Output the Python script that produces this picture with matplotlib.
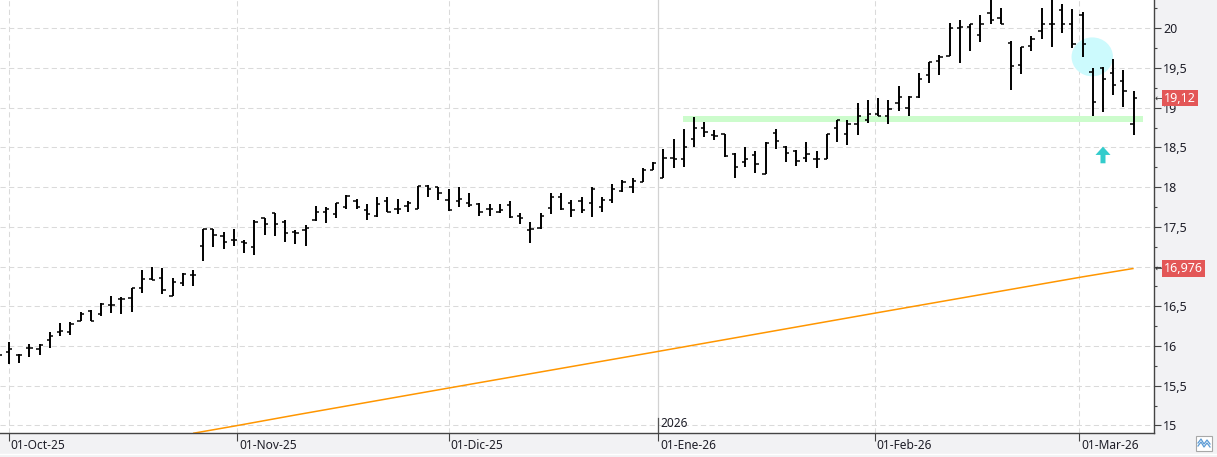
import numpy as np
import pandas as pd
import matplotlib
matplotlib.use('Agg')
import matplotlib.pyplot as plt
import matplotlib.ticker as mticker
import matplotlib.transforms as mtransforms
from matplotlib.patches import Ellipse, Rectangle
from matplotlib.lines import Line2D

plt.rcParams['font.family'] = ['Noto Sans', 'DejaVu Sans']

# ---------------- data ----------------
holidays = ['2025-12-25', '2025-12-26', '2026-01-01']
trade_dates = pd.bdate_range('2025-09-30', '2026-03-09')
trade_dates = trade_dates[~trade_dates.isin(pd.to_datetime(holidays))]

opens = [15.93, 15.93, 15.89, 15.97, 15.96, 16.08, 16.18, 16.18, 16.32, 16.44,
         16.40, 16.52, 16.59, 16.60, 16.73, 16.84, 16.85, 16.63, 16.79, 16.89,
         17.26, 17.47, 17.38, 17.33, 17.31, 17.24, 17.61, 17.68, 17.56, 17.43,
         17.46, 17.58, 17.69, 17.66, 17.75, 17.82, 17.71, 17.63, 17.82, 17.73,
         17.76, 17.72, 18.02, 18.00, 17.84, 17.82, 17.80, 17.79, 17.72, 17.69,
         17.77, 17.64, 17.46, 17.48, 17.74, 17.88, 17.80, 17.82, 17.80, 17.75,
         17.84, 17.95, 18.00, 18.06, 18.22, 18.12, 18.37, 18.35, 18.61, 18.74,
         18.66, 18.67, 18.42, 18.31, 18.40, 18.17, 18.68, 18.51, 18.46, 18.37,
         18.36, 18.35, 18.75, 18.67, 18.79, 18.84, 18.92, 18.90, 19.06, 19.00,
         19.14, 19.41, 19.59, 19.65, 20.00, 20.01, 19.92, 20.19, 20.13, 19.81,
         19.54, 19.78, 19.97, 20.05, 20.23, 20.05, 20.17, 19.45, 19.50, 19.44,
         19.33, 18.80]
highs = [16.00, 16.05, 15.90, 16.02, 16.02, 16.17, 16.29, 16.30, 16.43, 16.45,
         16.54, 16.63, 16.61, 16.73, 16.96, 17.00, 16.98, 16.85, 16.92, 16.96,
         17.47, 17.47, 17.44, 17.47, 17.33, 17.58, 17.61, 17.68, 17.58, 17.46,
         17.52, 17.76, 17.75, 17.80, 17.90, 17.85, 17.79, 17.87, 17.88, 17.85,
         17.82, 18.02, 18.03, 18.00, 17.97, 18.00, 17.93, 17.80, 17.79, 17.79,
         17.83, 17.68, 17.56, 17.68, 17.93, 17.93, 17.84, 17.87, 18.00, 17.87,
         18.04, 18.09, 18.12, 18.24, 18.32, 18.48, 18.60, 18.73, 18.88, 18.82,
         18.72, 18.67, 18.43, 18.50, 18.45, 18.57, 18.73, 18.52, 18.47, 18.57,
         18.45, 18.67, 18.85, 18.85, 19.06, 19.10, 19.12, 19.10, 19.27, 19.15,
         19.44, 19.57, 19.66, 20.07, 20.10, 20.06, 20.17, 20.42, 20.25, 19.84,
         19.76, 19.90, 20.25, 20.42, 20.31, 20.24, 20.20, 19.50, 19.51, 19.61,
         19.47, 19.21]
lows = [15.80, 15.77, 15.78, 15.86, 15.89, 15.97, 16.12, 16.14, 16.32, 16.32,
        16.38, 16.42, 16.40, 16.43, 16.67, 16.83, 16.66, 16.63, 16.75, 16.75,
        17.07, 17.25, 17.22, 17.26, 17.17, 17.15, 17.40, 17.38, 17.31, 17.28,
        17.26, 17.57, 17.55, 17.61, 17.72, 17.72, 17.59, 17.62, 17.69, 17.66,
        17.69, 17.72, 17.87, 17.84, 17.70, 17.75, 17.75, 17.64, 17.63, 17.67,
        17.61, 17.54, 17.30, 17.47, 17.66, 17.71, 17.62, 17.68, 17.62, 17.69,
        17.80, 17.94, 17.93, 18.06, 18.22, 18.12, 18.24, 18.25, 18.51, 18.63,
        18.59, 18.38, 18.12, 18.25, 18.18, 18.17, 18.48, 18.31, 18.27, 18.31,
        18.24, 18.35, 18.57, 18.53, 18.66, 18.81, 18.89, 18.80, 18.96, 18.90,
        19.12, 19.31, 19.41, 19.65, 19.56, 19.72, 19.83, 20.05, 20.05, 19.22,
        19.42, 19.72, 19.86, 19.76, 19.94, 19.75, 19.64, 18.89, 18.94, 19.16,
        19.01, 18.65]
closes = [15.88, 15.96, 15.88, 15.98, 16.01, 16.12, 16.19, 16.28, 16.40, 16.32,
          16.53, 16.52, 16.59, 16.73, 16.84, 16.83, 16.70, 16.80, 16.91, 16.89,
          17.47, 17.40, 17.31, 17.33, 17.29, 17.56, 17.54, 17.54, 17.42, 17.42,
          17.48, 17.69, 17.73, 17.80, 17.89, 17.75, 17.66, 17.79, 17.69, 17.72,
          17.80, 18.02, 17.98, 17.93, 17.71, 17.85, 17.77, 17.69, 17.73, 17.71,
          17.62, 17.61, 17.47, 17.63, 17.87, 17.73, 17.71, 17.71, 17.97, 17.84,
          17.98, 18.06, 18.08, 18.22, 18.30, 18.37, 18.36, 18.50, 18.74, 18.69,
          18.64, 18.39, 18.25, 18.36, 18.29, 18.56, 18.58, 18.43, 18.33, 18.42,
          18.36, 18.67, 18.85, 18.79, 18.90, 18.92, 18.90, 18.98, 19.13, 19.14,
          19.36, 19.57, 19.64, 20.00, 20.01, 20.06, 20.06, 20.10, 20.05, 19.53,
          19.76, 19.86, 20.05, 20.05, 20.05, 19.80, 19.80, 19.07, 19.36, 19.29,
          19.21, 19.12]

# long moving average read at a few bars (bar number counted from 01-Oct-25)
ma_bars = [18, 22, 28, 43, 63, 85, 97, 105, 110]
ma_vals = [14.90, 14.99, 15.13, 15.47, 15.92, 16.42, 16.69, 16.87, 16.976]

month_starts = ['2025-10-01', '2025-11-01', '2025-12-01', '2026-01-01', '2026-02-01', '2026-03-01']
month_labels = ['01-Oct-25', '01-Nov-25', '01-Dic-25', '01-Ene-26', '01-Feb-26', '01-Mar-26']
year_label = '2026'

support_level = (18.82, 18.895)
last_close_label = '19,12'
ma_last_label = '16,976'
hidden_tick_values = [17.0]   # covered by the moving-average price label

# ---------------- figure ----------------
W, H = 1217, 457
fig = plt.figure(figsize=(W / 100, H / 100), dpi=100, facecolor='#f2f2f4')
ax_left, ax_right, ax_top, ax_bottom = 0, 1153.5, 0, 433.3
ax = fig.add_axes([ax_left / W, 1 - ax_bottom / H, (ax_right - ax_left) / W, (ax_bottom - ax_top) / H])
ax.set_facecolor('white')

x = np.arange(len(trade_dates)) - 1  # 01-Oct-25 is bar 0
ords = np.array([d.toordinal() for d in trade_dates])
tick_pos = np.interp([pd.Timestamp(m).toordinal() for m in month_starts], ords, x)

ax.set_xlim(-0.88, 111.94)
ax.set_ylim(14.90, 20.356)

# grid
grid_col = '#dadada'
for v in np.arange(15, 20.01, 0.5):
    ax.axhline(v, color=grid_col, lw=0.75, dashes=(5, 3.2), zorder=0)
for p, lab in zip(tick_pos, month_labels):
    if lab == '01-Ene-26':
        ax.axvline(p, color='#d2d2d2', lw=0.9, zorder=0)
        ax.axvline(p, ymin=0, ymax=15 / 433.3, color='#555555', lw=0.9, zorder=3)
    else:
        ax.axvline(p, color=grid_col, lw=0.75, dashes=(5, 3.2), zorder=0)

# support band, circle, arrow
ax.add_patch(Rectangle((65.95, support_level[0]), 45.0, support_level[1] - support_level[0],
                       facecolor='#ccfccc', edgecolor='none', zorder=1))
ax.add_patch(Ellipse((105.95, 19.64), 4.05, 0.49, facecolor='#ccfafd', edgecolor='none', zorder=1))
ax.arrow(107.0, 18.30, 0, 0.21, width=0.49, head_width=1.47, head_length=0.105,
         length_includes_head=True, color='#33cccc', lw=0, zorder=2)

# moving average
ax.plot(ma_bars, ma_vals, color='#ff9600', lw=1.1, zorder=2, solid_capstyle='butt')

# OHLC bars
ax.vlines(x, lows, highs, color='black', lw=1.4, zorder=4)
ax.hlines(opens, x - 0.32, x, color='black', lw=1.1, zorder=4)
ax.hlines(closes, x, x + 0.32, color='black', lw=1.1, zorder=4)

# spines / axes
for s in ['left', 'top']:
    ax.spines[s].set_visible(False)
for s in ['right', 'bottom']:
    ax.spines[s].set_color('#444444')
    ax.spines[s].set_linewidth(1.0)


def fmt(v, p):
    if any(abs(v - h) < 1e-6 for h in hidden_tick_values):
        return ''
    return ('%g' % v).replace('.', ',')


ax.yaxis.tick_right()
ax.yaxis.set_major_locator(mticker.MultipleLocator(0.5))
ax.yaxis.set_minor_locator(mticker.MultipleLocator(0.25))
ax.yaxis.set_major_formatter(mticker.FuncFormatter(fmt))
ax.tick_params(axis='y', which='major', direction='out', length=4.7, width=0.8, color='#444444',
               pad=2.2, labelsize=9, labelcolor='#1e1e28')
ax.tick_params(axis='y', which='minor', direction='out', length=2.2, width=0.8, color='#444444')

ax.set_xticks(tick_pos)
ax.set_xticklabels([])
ax.tick_params(axis='x', which='major', direction='out', length=6, width=0.8, color='#444444')

for p, lab in zip(tick_pos, month_labels):
    ax.annotate(lab, xy=(p, 0), xycoords=('data', 'axes fraction'), xytext=(1.3, -4.2),
                textcoords='offset points', ha='left', va='top', fontsize=8.6, color='#1e1e28',
                annotation_clip=False)
ax.annotate(year_label, xy=(tick_pos[3], 0), xycoords=('data', 'axes fraction'), xytext=(1.3, 2.2),
            textcoords='offset points', ha='left', va='bottom', fontsize=8.6, color='#1e1e28')

# price labels on the right
blend = mtransforms.blended_transform_factory(ax.transAxes, ax.transData)
for val, txt in [(19.12, last_close_label), (16.976, ma_last_label)]:
    ax.text(1164.0 / ax_right, val, txt, transform=blend, ha='left', va='center', fontsize=9,
            color='white', bbox=dict(boxstyle='square,pad=0.14', fc='#e35757', ec='none'),
            clip_on=False, zorder=6)
    ax.text(1155.0 / ax_right, val, '\u2190', transform=blend, ha='left', va='center', fontsize=6.5,
            color='#333333', family='DejaVu Sans', clip_on=False, zorder=7)

# bottom decorations
fig.add_artist(Line2D([0, 1], [1 - 453.5 / H, 1 - 453.5 / H], color='white', lw=1.0))
fig.add_artist(Rectangle((1195.7 / W, 1 - 450.7 / H), 16.6 / W, 14.7 / H, facecolor='white',
                         edgecolor='#a8a8a8', lw=0.8))
fig.add_artist(Line2D(np.array([1198, 1201, 1204, 1207, 1210]) / W,
                      1 - np.array([443, 439, 444, 440, 444]) / H, color='#5b9bd5', lw=0.9))
fig.add_artist(Line2D(np.array([1198, 1201, 1204, 1207, 1210]) / W,
                      1 - np.array([446, 442, 447, 443, 447]) / H, color='#5b9bd5', lw=0.9))

fig.savefig('out.png', dpi=100, facecolor=fig.get_facecolor())
